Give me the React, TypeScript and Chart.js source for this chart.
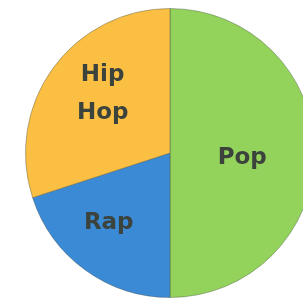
import React, { useEffect, useRef } from "react";
import { Chart, registerables } from "chart.js";

Chart.register(...registerables);

const labels = ["Pop", "Rap", "Hip Hop"];
const values = [50, 20, 30];
const colors = ["#93d35b", "#3b8ad6", "#fbbf44"];

const labelPlugin = {
  id: "sliceLabels",
  afterDatasetsDraw(chart: any) {
    const ctx = chart.ctx;
    const meta = chart.getDatasetMeta(0);
    const total = values.reduce((a, b) => a + b, 0);
    ctx.save();
    ctx.fillStyle = "#3c423c";
    ctx.font = "bold 23px 'DejaVu Sans', sans-serif";
    ctx.textAlign = "center";
    ctx.textBaseline = "alphabetic";
    const cap = 23 * 0.73;
    meta.data.forEach((arc: any, i: number) => {
      const p = arc.getProps(["x", "y", "startAngle", "endAngle", "outerRadius"], true);
      const big = values[i] / total >= 0.4;
      const mid = (p.startAngle + p.endAngle) / 2 + (big ? 0 : 0.11);
      const frac = big ? 0.5 : 0.63;
      const cx = p.x + Math.cos(mid) * p.outerRadius * frac;
      const cy = p.y + Math.sin(mid) * p.outerRadius * frac + (big ? 3 : 0);
      const lines = labels[i].split(" ");
      const lh = 38;
      lines.forEach((t, k) => {
        ctx.fillText(t, cx, cy + (k - (lines.length - 1) / 2) * lh + cap / 2);
      });
    });
    ctx.restore();
  },
};

export default function App() {
  const ref = useRef<HTMLCanvasElement>(null);
  useEffect(() => {
    if (!ref.current) return;
    const chart = new Chart(ref.current, {
      type: "pie",
      data: {
        labels,
        datasets: [
          {
            data: values,
            backgroundColor: colors,
            borderColor: "rgba(70,80,70,0.4)",
            borderWidth: 1,
          },
        ],
      },
      options: {
        responsive: false,
        animation: false,
        layout: { padding: 0 },
        plugins: { legend: { display: false }, tooltip: { enabled: false } },
      },
      plugins: [labelPlugin],
    });
    return () => chart.destroy();
  }, []);
  return (
    <div
      style={{
        position: "fixed",
        left: 0,
        top: 0,
        width: 303,
        height: 300,
        overflow: "hidden",
        background: "#fff",
      }}
    >
      <canvas
        ref={ref}
        width={290}
        height={290}
        style={{ position: "absolute", left: 25, top: 8, width: 290, height: 290 }}
      />
    </div>
  );
}
